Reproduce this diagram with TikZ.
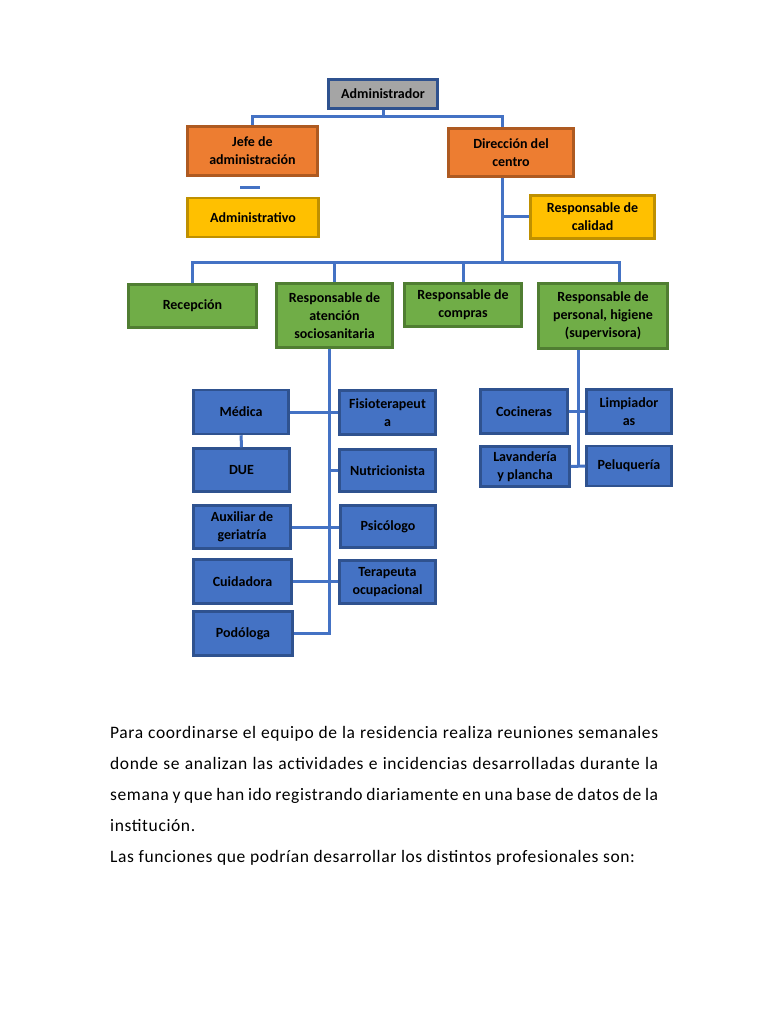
\documentclass[tikz,border=0pt]{standalone}
\usepackage{fontspec}
\setmainfont{Carlito}
\usetikzlibrary{calc,positioning}
\usepackage{xcolor}

\definecolor{linkblue}{HTML}{4472C4}
\definecolor{darkblue}{HTML}{2F528F}
\definecolor{orangefill}{HTML}{ED7D31}
\definecolor{orangeline}{HTML}{AE5A21}
\definecolor{goldfill}{HTML}{FFC000}
\definecolor{goldline}{HTML}{BF9000}
\definecolor{greenfill}{HTML}{70AD47}
\definecolor{greenline}{HTML}{507E32}
\definecolor{grayfill}{HTML}{A5A5A5}

\begin{document}
\begin{tikzpicture}[
    x=1pt, y=-1pt,
    box/.style={rectangle, draw, line width=2.5pt, align=center, inner sep=1pt,
        font=\fontsize{14}{18}\selectfont\bfseries},
    admin/.style={box, fill=grayfill, draw=darkblue},
    orange/.style={box, fill=orangefill, draw=orangeline},
    gold/.style={box, fill=goldfill, draw=goldline},
    green/.style={box, fill=greenfill, draw=greenline},
    blue/.style={box, fill=linkblue, draw=darkblue},
    link/.style={draw=linkblue, line width=3pt}
]
\useasboundingbox[fill=white] (0,0) rectangle (768,1024);

% top levels
\node[admin, minimum width=109, minimum height=29] (admin) at (383,94) {Administrador};
\node[orange, minimum width=130, minimum height=49] (jefe) at (252.5,151) {Jefe de\\administración};
\node[gold, minimum width=131, minimum height=39] (adminvo) at (253,217.5) {Administrativo};
\node[orange, minimum width=125, minimum height=48] (direccion) at (511,152.5) {Dirección del\\centro};
\node[gold, minimum width=124, minimum height=43] (calidad) at (592.5,217) {Responsable de\\calidad};

% responsables
\node[green, minimum width=128, minimum height=43] (recepcion) at (192.5,306) {Recepción};
\node[green, minimum width=116, minimum height=64] (atencion) at (334.5,315.5) {Responsable de\\atención\\sociosanitaria};
\node[green, minimum width=117, minimum height=43] (compras) at (463,305) {Responsable de\\compras};
\node[green, minimum width=129, minimum height=65] (personal) at (603,316) {Responsable de\\personal, higiene\\(supervisora)};

% atencion sociosanitaria
\node[blue, minimum width=95, minimum height=44] (medica) at (241,412) {Médica};
\node[blue, minimum width=96, minimum height=43] (due) at (241.5,470) {DUE};
\node[blue, minimum width=97, minimum height=43] (auxiliar) at (242,527) {Auxiliar de\\geriatría};
\node[blue, minimum width=98, minimum height=44] (cuidadora) at (242.5,581.5) {Cuidadora};
\node[blue, minimum width=99, minimum height=44] (podologa) at (243,633.5) {Podóloga};
\node[blue, minimum width=96, minimum height=44] (fisio) at (387.5,412.5) {Fisioterapeut\\a};
\node[blue, minimum width=96, minimum height=42] (nutri) at (387.5,470.5) {Nutricionista};
\node[blue, minimum width=95, minimum height=42] (psico) at (388,526.5) {Psicólogo};
\node[blue, minimum width=96, minimum height=43] (terapeuta) at (387.5,582) {Terapeuta\\ocupacional};

% personal e higiene
\node[blue, minimum width=87, minimum height=44] (cocineras) at (524,411.5) {Cocineras};
\node[blue, minimum width=85, minimum height=44] (limpia) at (629,411.5) {Limpiador\\as};
\node[blue, minimum width=89, minimum height=40] (lavanderia) at (525,466.5) {Lavandería\\y plancha};
\node[blue, minimum width=85, minimum height=40] (peluqueria) at (629,466) {Peluquería};

% guide lines
\coordinate (bar1) at (0,117);
\coordinate (bar2) at (0,262);
\coordinate (trunk) at (502,0);
\coordinate (pdrop) at (619,0);
\coordinate (avert) at (329,0);
\coordinate (pvert) at (578.5,0);

\draw[link] (admin.south) -- (admin.south |- bar1);
\draw[link] (jefe.north) |- (bar1 -| trunk) -- (trunk |- direccion.north);
\draw[link] ($(jefe.south)+(-12.5,10.5)$) -- ++(20,0);
\draw[link] (trunk |- direccion.south) -- (trunk |- bar2);
\draw[link] (trunk |- calidad.west) -- (calidad.west);
\draw[link] (recepcion.north) |- (bar2 -| pdrop) -- (pdrop |- personal.north);
\draw[link] (atencion.north) -- (atencion.north |- bar2);
\draw[link] (compras.north) -- (compras.north |- bar2);

\draw[link] (avert |- atencion.south) -- (avert |- podologa.east) -- (podologa.east);
\draw[link] (medica.east) -- (medica.east -| fisio.west);
\draw[link] (medica) -- (due);
\draw[link] (avert |- nutri.west) -- (nutri.west);
\draw[link] (auxiliar.east) -- (auxiliar.east -| psico.west);
\draw[link] (cuidadora.east) -- (cuidadora.east -| terapeuta.west);

\draw[link] (pvert |- personal.south) -- (pvert |- lavanderia.east);
\draw[link] (cocineras.east) -- (limpia.west);
\draw[link] (lavanderia.east) -- (peluqueria.west);

% text
\node[anchor=north west, text width=548pt, align=justify, inner sep=0pt,
      font=\fontsize{17.5}{31}\selectfont\addfontfeature{LetterSpace=3.5}] (texto) at (110,726)
  {Para coordinarse el equipo de la residencia realiza reuniones semanales\linebreak
   donde se analizan las actividades e incidencias desarrolladas durante la\linebreak
   semana y que han ido registrando diariamente en una base de datos de la\linebreak
   institución.\par
   Las funciones que podrían desarrollar los distintos profesionales son:};
\end{tikzpicture}
\end{document}
